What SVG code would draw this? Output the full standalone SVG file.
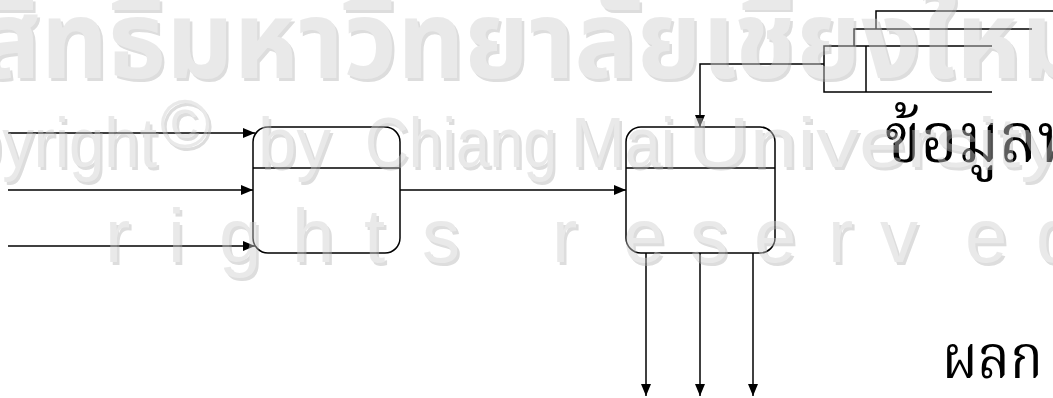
<svg xmlns="http://www.w3.org/2000/svg" width="1053" height="398" viewBox="0 0 1053 398">
<style>
.ln{fill:none;stroke:#000;stroke-width:1.5}
.box{fill:none;stroke:#000;stroke-width:1.5}
.th{font-family:"Noto Serif Thai","Noto Sans Thai Looped","Noto Sans Thai","Noto Sans",sans-serif;fill:#000}
.wm{font-family:"Liberation Sans",Arial,sans-serif}
.wmth{font-family:"Noto Sans Thai","Noto Sans Thai Looped","Noto Sans",sans-serif;font-weight:bold}
</style>
<defs>
<marker id="ah" viewBox="0 0 12 10" refX="12" refY="5" markerWidth="12" markerHeight="10" markerUnits="userSpaceOnUse" orient="auto">
<path d="M0,0 L12,5 L0,10 Z" fill="#000"/>
</marker>
</defs>
<rect width="1053" height="398" fill="#fff"/>
<g id="connectors">
<line class="ln" x1="8" y1="133" x2="255" y2="133" marker-end="url(#ah)"/>
<line class="ln" x1="8" y1="190" x2="253" y2="190" marker-end="url(#ah)"/>
<line class="ln" x1="8" y1="246" x2="255" y2="246" marker-end="url(#ah)"/>
<line class="ln" x1="400" y1="190" x2="626" y2="190" marker-end="url(#ah)"/>
<polyline class="ln" points="824,64 700,64 700,127" marker-end="url(#ah)"/>
<line class="ln" x1="646" y1="253" x2="646" y2="396" marker-end="url(#ah)"/>
<line class="ln" x1="700" y1="253" x2="700" y2="396" marker-end="url(#ah)"/>
<line class="ln" x1="753" y1="253" x2="753" y2="396" marker-end="url(#ah)"/>
</g>
<g id="process1">
<rect class="box" x="253" y="127" width="147" height="126" rx="15"/>
<line class="ln" x1="253" y1="168" x2="400" y2="168"/>
</g>
<g id="process2">
<rect class="box" x="626" y="127" width="149" height="126" rx="15"/>
<line class="ln" x1="626" y1="168" x2="775" y2="168"/>
</g>
<g id="datastore">
<path class="ln" d="M876,29 V11 H1053"/>
<path class="ln" d="M854,46 V29 H1032"/>
<path class="ln" d="M992,46 H824 V92 H992"/>
<line class="ln" x1="866" y1="46" x2="866" y2="92"/>
<text class="th" x="885" y="162" font-size="70" textLength="192" lengthAdjust="spacingAndGlyphs">ข้อมูลห</text>
</g>
<g id="output">
<text class="th" x="942" y="378" font-size="60" textLength="101" lengthAdjust="spacingAndGlyphs">ผลก</text>
</g>
<g id="watermark" opacity="0.45">
<g fill="#b4b4b4" transform="translate(2.5,2.5)">
<text class="wmth" x="-22" y="78" font-size="108" textLength="1110" lengthAdjust="spacingAndGlyphs">สิทธิ์มหาวิทยาลัยเชียงใหม่</text>
<text class="wm" x="157" y="167" font-size="70" text-anchor="end" textLength="271" lengthAdjust="spacingAndGlyphs">Copyright</text>
<text class="wm" x="160" y="147" font-size="68">©</text>
<text class="wm" x="258" y="167" font-size="70" textLength="73" lengthAdjust="spacingAndGlyphs">by</text>
<text class="wm" x="365" y="167" font-size="70" textLength="192" lengthAdjust="spacingAndGlyphs">Chiang</text>
<text class="wm" x="571" y="167" font-size="70" textLength="104" lengthAdjust="spacingAndGlyphs">Mai</text>
<text class="wm" x="688" y="167" font-size="70" textLength="375" lengthAdjust="spacingAndGlyphs">University</text>
<text class="wm" y="262" font-size="76" x="-60 105 168 219 292 364 422 552 623 690 754 828 880 965 1036">lrightsreserved</text>
</g>
<g fill="#d0d0d0">
<text class="wmth" x="-22" y="78" font-size="108" textLength="1110" lengthAdjust="spacingAndGlyphs">สิทธิ์มหาวิทยาลัยเชียงใหม่</text>
<text class="wm" x="157" y="167" font-size="70" text-anchor="end" textLength="271" lengthAdjust="spacingAndGlyphs">Copyright</text>
<text class="wm" x="160" y="147" font-size="68">©</text>
<text class="wm" x="258" y="167" font-size="70" textLength="73" lengthAdjust="spacingAndGlyphs">by</text>
<text class="wm" x="365" y="167" font-size="70" textLength="192" lengthAdjust="spacingAndGlyphs">Chiang</text>
<text class="wm" x="571" y="167" font-size="70" textLength="104" lengthAdjust="spacingAndGlyphs">Mai</text>
<text class="wm" x="688" y="167" font-size="70" textLength="375" lengthAdjust="spacingAndGlyphs">University</text>
<text class="wm" y="262" font-size="76" x="-60 105 168 219 292 364 422 552 623 690 754 828 880 965 1036">lrightsreserved</text>
</g>
</g>
</svg>
